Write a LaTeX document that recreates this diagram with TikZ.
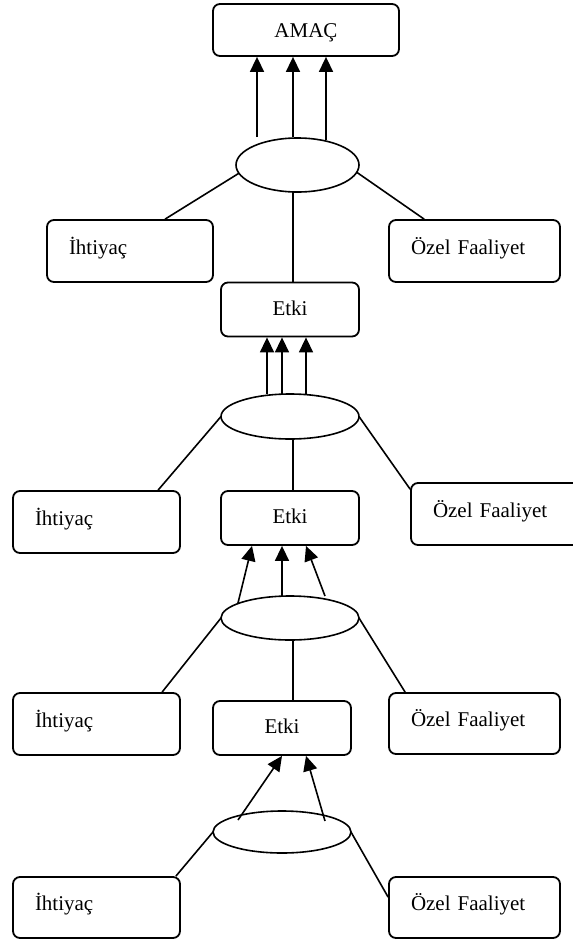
\documentclass[tikz,border=0pt]{standalone}
\usepackage{fontspec}
\setmainfont{Liberation Serif}
\usetikzlibrary{arrows.meta,shapes.geometric}
\begin{document}
\begin{tikzpicture}[x=1pt,y=-1pt,
  every node/.style={font=\fontsize{21}{25}\selectfont},
  wire/.style={line width=1.6pt},
  arr/.style={wire,-{Triangle[length=15pt,width=14pt]}},
  box/.style={draw,line width=1.8pt,rounded corners=7pt,inner ysep=0pt},
  sidebox/.style={box,minimum height=62pt,text width=#1,align=left,
    inner xsep=22pt,text height=12pt,text depth=6pt},
  etkibox/.style={box,minimum width=138pt,minimum height=54pt,
    text height=14pt,text depth=3pt},
  hub/.style={draw,ellipse,line width=1.6pt,inner sep=0pt,outer sep=0pt}
]
\useasboundingbox (0,0) rectangle (573,943);
\fill[white] (0,0) rectangle (573,943);
\clip (0,0) rectangle (573,943);

% top goal
\node[box,minimum width=186pt,minimum height=52pt,text height=14pt,text depth=0pt]
  (amac) at (306,30) {AMAÇ};

% level 1
\node[hub,minimum width=123pt,minimum height=54pt] (e1) at (297.5,165) {};
\node[sidebox=122pt] (ih1) at (130,251) {İhtiyaç};
\node[sidebox=127pt] (oz1) at (474.5,251) {Özel Faaliyet};
\node[etkibox] (et1) at (290,309.5) {Etki};

% level 2
\node[hub,minimum width=138pt,minimum height=45pt] (e2) at (290,416.5) {};
\node[sidebox=123pt] (ih2) at (96.5,522) {İhtiyaç};
\node[etkibox] (et2) at (290,518) {Etki};
\node[sidebox=126pt] (oz2) at (496,514) {Özel Faaliyet};

% level 3
\node[hub,minimum width=138pt,minimum height=44pt] (e3) at (290,618) {};
\node[sidebox=123pt] (ih3) at (96.5,724) {İhtiyaç};
\node[etkibox] (et3) at (282,728) {Etki};
\node[sidebox=127pt,minimum height=61pt] (oz3) at (474.5,723.5) {Özel Faaliyet};

% level 4
\node[hub,minimum width=138pt,minimum height=42pt] (e4) at (282,832) {};
\node[sidebox=123pt,minimum height=61pt] (ih4) at (96.5,907.5) {İhtiyaç};
\node[sidebox=127pt,minimum height=61pt] (oz4) at (474.5,907.5) {Özel Faaliyet};

% level 1 connectors
\coordinate (t1a) at (257,137);
\coordinate (t1b) at (293,137);
\coordinate (t1c) at (326,140);
\foreach \t in {t1a,t1b,t1c}
  \draw[arr] (\t) -- (\t |- amac.south);
\draw[wire] (e1.188) -- ([xshift=119pt]ih1.north west);
\draw[wire] (e1.353) -- ([xshift=36pt]oz1.north west);
\draw[wire] ([xshift=3pt]et1.north) -- ([xshift=3pt]et1.north |- e1.south);

% level 2 connectors
\foreach \dx in {-23,-8,16}
  \draw[arr] ([xshift=\dx pt]e2.north) -- ([xshift=\dx pt]e2.north |- et1.south);
\draw[wire] (e2.west) -- ([xshift=146pt]ih2.north west);
\draw[wire] (e2.east) -- ([yshift=-7pt]oz2.north west);
\draw[wire] ([xshift=3pt]et2.north) -- ([xshift=3pt]et2.north |- e2.south);

% level 3 connectors
\draw[arr] ([shift={(-52pt,15pt)}]e3.center) -- ([xshift=-38pt]et2.south);
\draw[arr] ([xshift=-8pt]e3.north) -- ([xshift=-8pt]et2.south);
\draw[arr] ([xshift=35pt]e3.north) -- ([xshift=16pt]et2.south);
\draw[wire] (e3.west) -- ([xshift=150pt]ih3.north west);
\draw[wire] (e3.east) -- ([xshift=17pt]oz3.north west);
\draw[wire] ([xshift=11pt]et3.north) -- ([xshift=11pt]et3.north |- e3.south);

% level 4 connectors
\draw[arr] ([shift={(-44pt,12pt)}]e4.center) -- (et3.south);
\draw[arr] ([shift={(43pt,11pt)}]e4.center) -- ([xshift=24pt]et3.south);
\draw[wire] (e4.west) -- ([xshift=-5pt]ih4.north east);
\draw[wire] (e4.east) -- ([yshift=-21pt]oz4.north west);
\end{tikzpicture}
\end{document}
